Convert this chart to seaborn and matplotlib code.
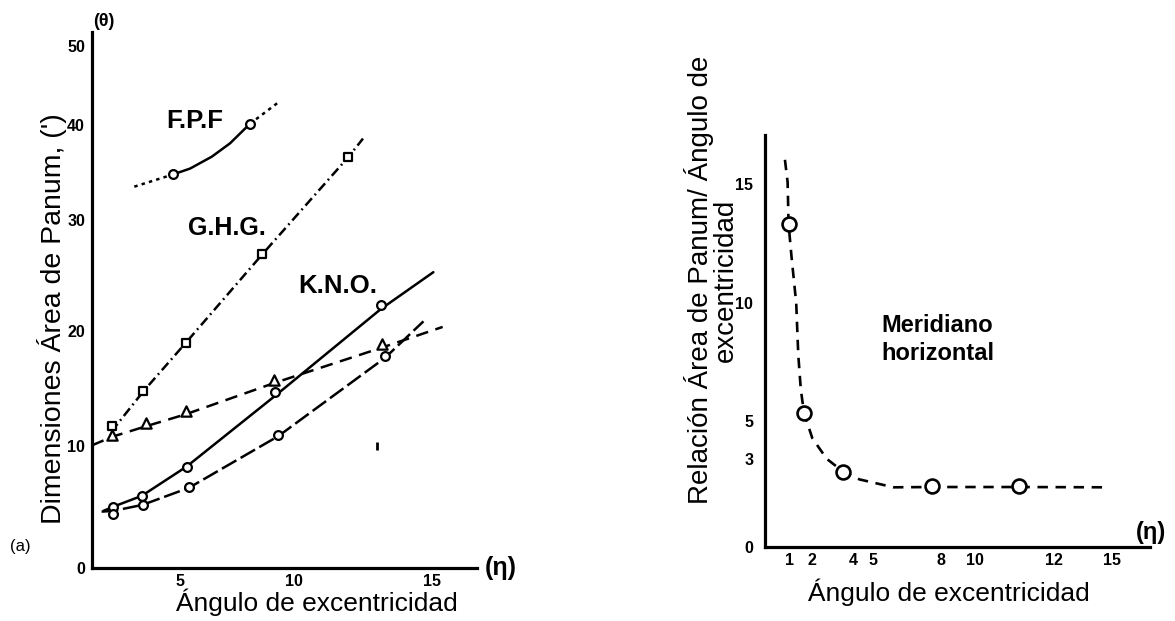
import numpy as np
import matplotlib
matplotlib.use("Agg")
import matplotlib.pyplot as plt
import seaborn as sns

# ---------------- data ----------------
# Left panel: Panum area dimensions vs eccentricity
fpf_x = [4.7, 8.06]
fpf_y = [34.8, 40.2]
fpf_solid_x = [4.7, 5.44, 6.39, 7.19, 8.06]
fpf_solid_y = [34.8, 35.42, 36.68, 38.1, 40.2]
fpf_dot_left_x = [3.0, 4.7]
fpf_dot_left_y = [33.5, 34.8]
fpf_dot_right_x = [8.06, 9.3]
fpf_dot_right_y = [40.2, 42.9]

ghg_x = [2.01, 3.4, 5.25, 8.6, 11.97]
ghg_y = [11.8, 14.8, 19.0, 26.9, 36.65]
ghg_line_x = [2.0, 3.4, 5.25, 8.6, 11.97, 12.5]
ghg_line_y = [11.3, 14.8, 19.0, 26.9, 36.65, 38.6]

tri_x = [2.04, 3.5, 5.25, 9.1, 13.2]
tri_y = [11.0, 12.05, 13.1, 15.8, 18.9]
tri_line_x = [1.15, 2.04, 3.5, 5.25, 9.1, 13.2, 15.4]
tri_line_y = [10.1, 10.85, 11.75, 12.8, 15.5, 18.6, 20.4]

kno1_x = [2.06, 3.33, 5.29, 9.16, 13.15]
kno1_y = [5.03, 5.94, 8.35, 14.7, 22.4]
kno1_line_x = [1.65, 2.06, 3.33, 5.29, 9.16, 13.15, 15.06]
kno1_line_y = [4.7, 5.03, 5.94, 8.35, 14.4, 22.0, 25.3]

kno2_x = [2.08, 3.37, 5.39, 9.3, 13.3]
kno2_y = [4.48, 5.19, 6.65, 10.99, 17.9]
kno2_line_x = [1.57, 2.08, 3.37, 5.39, 9.3, 13.3, 14.7]
kno2_line_y = [4.64, 4.7, 5.2, 6.6, 10.9, 17.7, 20.9]

stray_x = [13.0]
stray_y = [10.0]

left_xticks = [5, 10, 15]
left_yticks = [0, 10, 20, 30, 40, 50]

# Right panel: ratio vs eccentricity (horizontal meridian)
ratio_x = [0.97, 1.64, 3.51, 7.6, 11.1]
ratio_y = [13.3, 5.35, 2.56, 2.08, 2.08]
ratio_curve_x = [0.82, 0.93, 0.97, 1.1, 1.3, 1.39, 1.5, 1.64, 2.0, 2.7, 3.51,
                 4.3, 5.9, 7.6, 11.1, 14.8]
ratio_curve_y = [16.0, 15.07, 13.3, 11.9, 10.0, 7.8, 6.35, 5.35, 4.1, 3.0, 2.56,
                 2.3, 2.03, 2.04, 2.04, 2.03]

right_xticks = [1, 2, 4, 5, 8, 10, 12, 15]
right_yticks = [0, 3, 5, 10, 15]

# ---------------- style ----------------
sns.set_theme(style="white")
plt.rcParams["font.family"] = ["Liberation Sans", "DejaVu Sans"]
plt.rcParams["lines.scale_dashes"] = False
plt.rcParams["text.color"] = "black"
plt.rcParams["xtick.color"] = "black"
plt.rcParams["ytick.color"] = "black"
plt.rcParams["axes.labelcolor"] = "black"

W, H = 1175, 621
fig = plt.figure(figsize=(W / 100, H / 100), dpi=100)


def fx(px):
    return px / W


def fy(py):
    return 1 - py / H


def piecewise(data_knots, pos_knots):
    d = np.asarray(data_knots, float)
    p = np.asarray(pos_knots, float)
    return (lambda v: np.interp(v, d, p), lambda v: np.interp(v, p, d))


axL = fig.add_axes([fx(92), fy(568), (477 - 92) / W, (568 - 31.6) / H])
axR = fig.add_axes([fx(765), fy(547), (1150 - 765) / W, 411.8 / H])

# hand-drawn (non-uniform) axis scales of the original figure
axL.set_xscale("function", functions=piecewise([0, 5, 10, 15, 20],
                                                [65.7, 180, 294.3, 431.7, 569]))
axL.set_yscale("function", functions=piecewise([0, 10, 20, 30, 40, 50, 60],
                                                [0, 121.5, 236.6, 348.3, 442.6, 521.8, 601]))
axR.set_xscale("function", functions=piecewise([0, 1, 2, 4, 5, 8, 10, 12, 15, 20],
                                                [765, 789.3, 812.3, 853.3, 873.3, 940.7,
                                                 975, 1054.3, 1111.7, 1207]))
axR.set_yscale("function", functions=piecewise([0, 3, 5, 10, 15, 20],
                                                [0, 88.2, 125.6, 243.9, 363.3, 482.7]))

LW = 1.8


def line(ax, x, y, ls, lw=LW):
    sns.lineplot(x=x, y=y, sort=False, estimator=None, color="black",
                 linewidth=lw, linestyle=ls, ax=ax, zorder=2)


def pts(ax, x, y, marker, s, lw=1.6):
    sns.scatterplot(x=x, y=y, marker=marker, s=s, color="white",
                    edgecolor="black", linewidth=lw, ax=ax, zorder=4)


dotted = (0, (2.5, 3))
dashdot = (0, (7, 3, 1.3, 3))
dashed = (0, (9, 5.5))
longdash = (0, (12, 3.5))

# F.P.F
line(axL, fpf_dot_left_x, fpf_dot_left_y, dotted)
line(axL, fpf_solid_x, fpf_solid_y, "-")
line(axL, fpf_dot_right_x, fpf_dot_right_y, dotted)
pts(axL, fpf_x, fpf_y, "o", 40)
# G.H.G.
line(axL, ghg_line_x, ghg_line_y, dashdot)
pts(axL, ghg_x, ghg_y, "s", 34)
# triangles
line(axL, tri_line_x, tri_line_y, dashed)
pts(axL, tri_x, tri_y, "^", 55)
# K.N.O.
line(axL, kno1_line_x, kno1_line_y, "-")
pts(axL, kno1_x, kno1_y, "o", 40)
line(axL, kno2_line_x, kno2_line_y, longdash)
pts(axL, kno2_x, kno2_y, "o", 40)
sns.scatterplot(x=stray_x, y=stray_y, marker="|", s=30, color="black",
                linewidth=2, ax=axL, zorder=3)

# Right panel
line(axR, ratio_curve_x, ratio_curve_y, (0, (7.5, 5.5)), lw=1.9)
pts(axR, ratio_x, ratio_y, "o", 100, lw=1.9)

# limits, ticks
axL.set_xlim(1.15, 16.65)
axL.set_ylim(0, 51.84)
axR.set_xlim(0, 17.0)
axR.set_ylim(0, 17.03)

for ax in (axL, axR):
    ax.xaxis.set_minor_locator(matplotlib.ticker.NullLocator())
    ax.yaxis.set_minor_locator(matplotlib.ticker.NullLocator())
    sns.despine(ax=ax)
    for sp in ("left", "bottom"):
        ax.spines[sp].set_linewidth(2.3)
        ax.spines[sp].set_color("black")
    ax.grid(False)
    ax.set_xlabel("")
    ax.set_ylabel("")

axL.set_xticks(left_xticks)
axL.set_xticklabels([str(v) for v in left_xticks])
axL.set_yticks(left_yticks)
axL.set_yticklabels([str(v) for v in left_yticks])
axR.set_xticks(right_xticks)
axR.set_xticklabels([str(v) for v in right_xticks])
axR.set_yticks(right_yticks)
axR.set_yticklabels([str(v) for v in right_yticks])

axL.tick_params(axis="both", direction="in", length=6.5, width=2.3, colors="black",
                labelsize=11.5)
axL.tick_params(axis="y", pad=5)
axL.tick_params(axis="x", pad=4.5)
axR.tick_params(axis="both", direction="in", length=6.5, width=2.3, colors="black",
                labelsize=11.5)
axR.tick_params(axis="y", pad=8.5)
axR.tick_params(axis="x", pad=4)
for ax in (axL, axR):
    for lbl in ax.get_xticklabels() + ax.get_yticklabels():
        lbl.set_fontweight("bold")
        lbl.set_color("black")

# ---------------- texts ----------------
K = "black"
fig.text(fx(51.7), fy(318.5), "Dimensiones Área de Panum, (')", rotation=90,
         ha="center", va="center", fontsize=20.5, color=K)
fig.text(fx(316.5), fy(602), "Ángulo de excentricidad", ha="center", va="center",
         fontsize=19, color=K)
fig.text(fx(949), fy(592), "Ángulo de excentricidad", ha="center", va="center",
         fontsize=19, color=K)
fig.text(fx(711), fy(280), "Relación Área de Panum/ Ángulo de\nexcentricidad",
         rotation=90, ha="center", va="center", multialignment="center",
         fontsize=20, linespacing=0.95, color=K)

fig.text(fx(104), fy(21.7), "(θ)", ha="center", va="center", fontsize=13,
         fontweight="bold", color=K)
fig.text(fx(20), fy(546), "(a)", ha="center", va="center", fontsize=12, color=K)
fig.text(fx(501), fy(568), "(η)", ha="center", va="center", fontsize=18,
         fontweight="bold", color=K)
fig.text(fx(1151), fy(532), "(η)", ha="center", va="center", fontsize=17,
         fontweight="bold", color=K)

fig.text(fx(166.7), fy(120.7), "F.P.F", ha="left", va="center", fontsize=18.5,
         fontweight="bold", color=K)
fig.text(fx(188.3), fy(228.3), "G.H.G.", ha="left", va="center", fontsize=18,
         fontweight="bold", color=K)
fig.text(fx(298), fy(286), "K.N.O.", ha="left", va="center", fontsize=18.5,
         fontweight="bold", color=K)
fig.text(fx(881.7), fy(325.7), "Meridiano", ha="left", va="center", fontsize=17,
         fontweight="bold", color=K)
fig.text(fx(881.7), fy(353.4), "horizontal", ha="left", va="center", fontsize=17,
         fontweight="bold", color=K)

fig.savefig("out.png", dpi=100, facecolor="white")
